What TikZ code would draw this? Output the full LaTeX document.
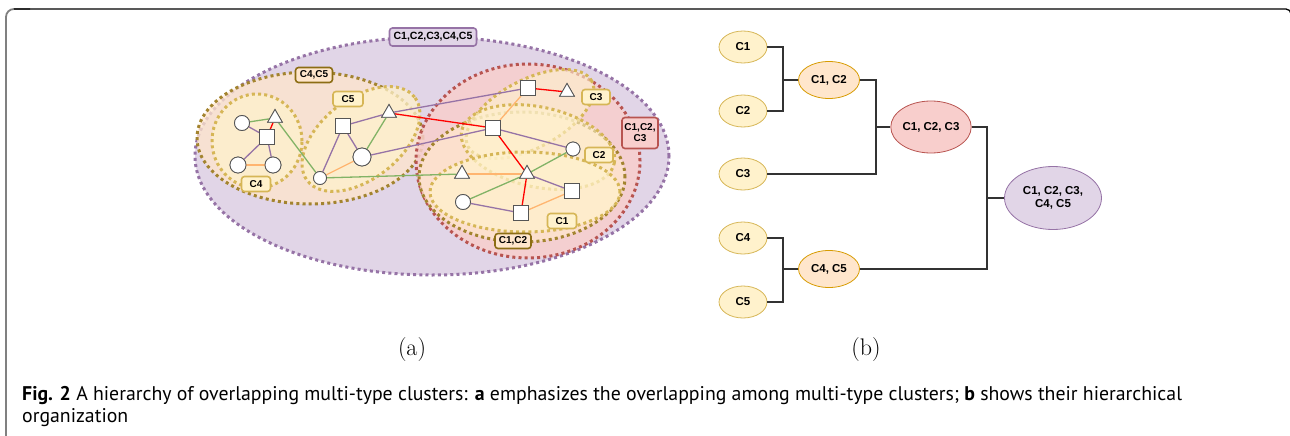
\documentclass[tikz,border=0pt]{standalone}
\usepackage{fontspec}
\newfontfamily\labfont{Liberation Sans}
\newfontfamily\capfont{PT Sans}
\usetikzlibrary{shapes.geometric}
\definecolor{pfill}{HTML}{E1D5E7}
\definecolor{pline}{HTML}{9673A6}
\definecolor{rfill}{HTML}{F8CECC}
\definecolor{rline}{HTML}{B85450}
\definecolor{ofill}{HTML}{FFE6CC}
\definecolor{oline}{HTML}{D79B00}
\definecolor{bline}{HTML}{A3842F}
\definecolor{bdark}{HTML}{8C6D14}
\definecolor{yfill}{HTML}{FFF2CC}
\definecolor{yline}{HTML}{D6B656}
\definecolor{egreen}{HTML}{82B366}
\definecolor{eorange}{HTML}{FFB570}
\definecolor{epurple}{HTML}{9673A6}
\definecolor{ered}{HTML}{FF0000}
\definecolor{shapeline}{HTML}{555555}
\definecolor{conn}{HTML}{333333}
\tikzset{
  dots/.style={line width=3pt, dash pattern=on 3pt off 3.2pt},
  sq/.style={rectangle, draw=shapeline, fill=white, minimum size=15pt, inner sep=0pt, line width=0.8pt},
  ci/.style={circle, draw=shapeline, fill=white, minimum size=15pt, inner sep=0pt, line width=0.8pt},
  tri/.style={regular polygon, regular polygon sides=3, draw=shapeline, fill=white, minimum size=17pt, inner sep=0pt, line width=0.8pt},
  pe/.style={epurple, line width=1.3pt},
  ge/.style={egreen, line width=1.3pt},
  oe/.style={eorange, line width=1.3pt},
  re/.style={ered, line width=1.3pt},
  lbl/.style={rectangle, rounded corners=3pt, line width=1.6pt, inner sep=0pt, align=center,
    font=\labfont\bfseries\fontsize{10}{11}\selectfont, minimum height=15pt},
  ylbl/.style={lbl, draw=yline, fill=yfill},
  blbl/.style={lbl, draw=bdark, fill=ofill},
  tn/.style={ellipse, line width=0.8pt, inner sep=0pt, align=center,
    font=\labfont\bfseries\fontsize{11.5}{13}\selectfont},
  leaf/.style={tn, draw=yline, fill=yfill, minimum width=48pt, minimum height=32pt},
  mid/.style={tn, draw=oline, fill=ofill, minimum width=61pt, minimum height=37pt},
  cn/.style={conn, line width=1.2pt},
}
\begin{document}
\begin{tikzpicture}[x=1pt,y=-1pt]
\useasboundingbox (0,0) rectangle (1290,436);
\clip (0,0) rectangle (1290,436);
% frame
\draw[gray, line width=1.8pt, rounded corners=8pt] (6,450) -- (6,9) -- (30,9);
\draw[black, line width=1.3pt, rounded corners=5pt] (14,9) -- (1291,9) -- (1291,450);

% ---------- (a) clusters ----------
\path[fill=pfill, draw=pline, dots] (432,156) ellipse [x radius=237pt, y radius=119pt];
\path[fill=ofill, fill opacity=0.75, draw=bline, dots] (310,138) ellipse [x radius=113pt, y radius=66pt];
\path[fill=yfill, fill opacity=0.75, draw=yline, dots] (257,141) ellipse [x radius=45pt, y radius=47pt];
\path[fill=yfill, fill opacity=0.75, draw=yline, dots, rotate around={38:(361,139)}] (361,139) ellipse [x radius=68pt, y radius=40pt];
\path[fill=rfill, fill opacity=0.85, draw=rline, dots] (528,161) ellipse [x radius=112pt, y radius=97pt];
\path[fill=ofill, fill opacity=0.75, draw=bline, dots] (522,177) ellipse [x radius=103pt, y radius=65pt];
\path[fill=yfill, fill opacity=0.6, draw=yline, dots, rotate around={28:(530,114)}] (530,114) ellipse [x radius=70pt, y radius=34pt];
\path[fill=yfill, fill opacity=0.6, draw=yline, dots, rotate around={-12:(538,147)}] (538,147) ellipse [x radius=78pt, y radius=40pt];
\path[fill=yfill, fill opacity=0.7, draw=yline, dots] (525,192) ellipse [x radius=95pt, y radius=40pt];

% ---------- (a) graph nodes (placed for edge ends) ----------
\node[ci] (a1) at (242,123) {};
\node[tri] (a2) at (275,118) {};
\node[sq] (a3) at (267,137) {};
\node[ci, minimum size=16pt] (a4) at (238,165) {};
\node[ci, minimum size=16pt] (a5) at (273,165) {};
\node[sq] (b1) at (343,126) {};
\node[tri] (b2) at (389,113) {};
\node[ci, minimum size=18pt] (b3) at (362,157) {};
\node[ci, minimum size=13pt] (b4) at (320,178) {};
\node[sq] (c1) at (528,88) {};
\node[tri] (c2) at (567,92) {};
\node[sq] (c3) at (493,128) {};
\node[ci, minimum size=14pt] (c4) at (573,149) {};
\node[tri] (c5) at (462,174) {};
\node[tri] (c6) at (527,174) {};
\node[sq] (c7) at (572,191) {};
\node[ci] (c8) at (463,202) {};
\node[sq] (c9) at (521,213) {};

% ---------- (a) edges ----------
\draw[ge] (a1) -- (a2);
\draw[re] (a2) -- (a3);
\draw[pe] (a1) -- (a3);
\draw[pe] (a3) -- (a4);
\draw[pe] (a3) -- (a5);
\draw[oe] (a4) -- (a5);
\draw[ge] (a2) -- (b4);
\draw[pe] (b4) -- (b1);
\draw[oe] (b4) -- (b3);
\draw[pe] (b1) -- (b3);
\draw[ge] (b3) -- (b2);
\draw[pe] (b1) -- (b2);
\draw[pe] (b2) -- (c1);
\draw[re] (b2) -- (c3);
\draw[pe] (b3) -- (c3);
\draw[ge] (b4) -- (c5);
\draw[re] (c1) -- (c2);
\draw[oe] (c1) -- (c3);
\draw[pe] (c3) -- (c4);
\draw[re] (c3) -- (c6);
\draw[ge] (c6) -- (c4);
\draw[ge] (c8) -- (c6);
\draw[oe] (c5) -- (c6);
\draw[pe] (c6) -- (c7);
\draw[re] (c6) -- (c9);
\draw[pe] (c8) -- (c9);
\draw[oe] (c9) -- (c7);
% nodes drawn again on top of the edges
\foreach \n/\s/\m/\p in {a1/ci/15/{242,123}, a2/tri/17/{275,118}, a3/sq/15/{267,137}, a4/ci/16/{238,165}, a5/ci/16/{273,165},
  b1/sq/15/{343,126}, b2/tri/17/{389,113}, b3/ci/18/{362,157}, b4/ci/13/{320,178},
  c1/sq/15/{528,88}, c2/tri/17/{567,92}, c3/sq/15/{493,128}, c4/ci/14/{573,149}, c5/tri/17/{462,174},
  c6/tri/17/{527,174}, c7/sq/15/{572,191}, c8/ci/15/{463,202}, c9/sq/15/{521,213}}
  {\node[\s, minimum size=\m pt] (\n x) at (\p) {};}

% ---------- (a) labels ----------
\node[lbl, draw=pline, fill=pfill, font=\labfont\bfseries\fontsize{10.5}{11}\selectfont, minimum width=87pt, minimum height=18pt] (L12345) at (433,37) {C1,C2,C3,C4,C5};
\node[blbl, minimum width=37pt] (L45) at (314,75) {C4,C5};
\node[ylbl, minimum width=30pt] (L5) at (348,99) {C5};
\node[ylbl, minimum width=29pt] (L4) at (256,184) {C4};
\node[ylbl, minimum width=28pt] (L3) at (596,97) {C3};
\node[ylbl, minimum width=28pt] (L2) at (599,155) {C2};
\node[ylbl, minimum width=29pt] (L1) at (562,221) {C1};
\node[blbl, minimum width=36pt] (L12) at (513,241) {C1,C2};
\node[lbl, draw=rline, fill=rfill, minimum width=36pt, minimum height=31pt] (L123) at (640,133) {C1,C2,\\C3};

% ---------- (b) tree ----------
\node[leaf] (t1) at (743,47) {C1};
\node[leaf] (t2) at (743,111) {C2};
\node[leaf] (t3) at (743,174) {C3};
\node[leaf] (t4) at (743,238) {C4};
\node[leaf] (t5) at (743,302) {C5};
\node[mid] (t12) at (829,80) {C1, C2};
\node[mid] (t45) at (829,269) {C4, C5};
\node[tn, draw=rline, fill=rfill, minimum width=79pt, minimum height=52pt] (t123) at (931,127) {C1, C2, C3};
\node[tn, draw=pline, fill=pfill, minimum width=97pt, minimum height=63pt] (troot) at (1053,198) {C1, C2, C3,\\C4, C5};
\coordinate (j1) at (783,80);
\coordinate (j2) at (876,127);
\coordinate (j3) at (987,198);
\coordinate (j4) at (783,269);
\draw[cn] (t1.east) -| (j1) -- (t12.west);
\draw[cn] (t2.east) -| (j1);
\draw[cn] (t12.east) -| (j2) -- (t123.west);
\draw[cn] (t3.east) -| (j2);
\draw[cn] (t123.east) -| (j3) -- (troot.west);
\draw[cn] (t45.east) -| (j3);
\draw[cn] (t4.east) -| (j4) -- (t45.west);
\draw[cn] (t5.east) -| (j4);

% ---------- sub-captions and caption ----------
\node[font=\fontsize{24}{28}\selectfont] (capa) at (412,350) {(a)};
\node[font=\fontsize{24}{28}\selectfont] (capb) at (866,350) {(b)};
\node[anchor=base west, align=left, inner sep=0pt, font=\capfont\fontsize{19.8}{21.5}\selectfont] (cap) at (22,422)
  {\textbf{Fig. 2} A hierarchy of overlapping multi-type clusters: \textbf{a} emphasizes the overlapping among multi-type clusters; \textbf{b} shows their hierarchical\\organization};
\end{tikzpicture}
\end{document}
